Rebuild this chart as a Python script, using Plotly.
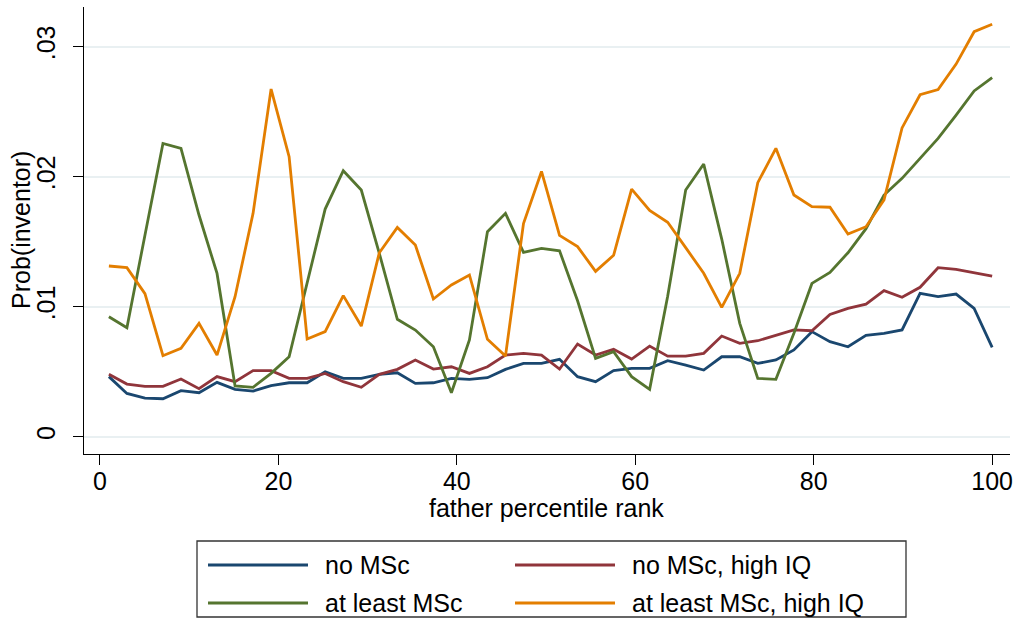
import plotly.graph_objects as go

# ---- data ----
x_rank = [1.00, 3.02, 5.04, 7.06, 9.08, 11.10, 13.12, 15.14, 17.16, 19.18,
          21.20, 23.22, 25.24, 27.27, 29.29, 31.31, 33.33, 35.35, 37.37, 39.39,
          41.41, 43.43, 45.45, 47.47, 49.49, 51.51, 53.53, 55.55, 57.57, 59.59,
          61.61, 63.63, 65.65, 67.67, 69.69, 71.71, 73.73, 75.76, 77.78, 79.80,
          81.82, 83.84, 85.86, 87.88, 89.90, 91.92, 93.94, 95.96, 97.98, 100.00]

no_msc = [0.00462, 0.00333, 0.00297, 0.00292, 0.00354, 0.00338, 0.00418, 0.00364, 0.00351, 0.00392,
          0.00415, 0.00415, 0.00500, 0.00449, 0.00449, 0.00480, 0.00492, 0.00410, 0.00415, 0.00449,
          0.00441, 0.00454, 0.00518, 0.00564, 0.00564, 0.00595, 0.00462, 0.00423, 0.00508, 0.00526,
          0.00526, 0.00585, 0.00551, 0.00513, 0.00615, 0.00615, 0.00564, 0.00590, 0.00667, 0.00808,
          0.00731, 0.00692, 0.00779, 0.00795, 0.00821, 0.01103, 0.01077, 0.01097, 0.00987, 0.00687]

no_msc_hiq = [0.00480, 0.00405, 0.00387, 0.00387, 0.00444, 0.00369, 0.00462, 0.00423, 0.00508, 0.00508,
              0.00449, 0.00449, 0.00487, 0.00423, 0.00380, 0.00480, 0.00518, 0.00590, 0.00520, 0.00538,
              0.00487, 0.00538, 0.00628, 0.00641, 0.00628, 0.00520, 0.00713, 0.00628, 0.00672, 0.00597,
              0.00697, 0.00620, 0.00620, 0.00641, 0.00774, 0.00718, 0.00738, 0.00782, 0.00821, 0.00815,
              0.00940, 0.00987, 0.01020, 0.01123, 0.01072, 0.01149, 0.01300, 0.01287, 0.01264, 0.01236]

msc = [0.00923, 0.00838, 0.01550, 0.02256, 0.02218, 0.01705, 0.01256, 0.00390, 0.00380, 0.00487,
       0.00615, 0.01180, 0.01751, 0.02046, 0.01897, 0.01410, 0.00903, 0.00820, 0.00692, 0.00338,
       0.00744, 0.01577, 0.01718, 0.01418, 0.01449, 0.01430, 0.01046, 0.00603, 0.00654, 0.00462,
       0.00364, 0.01080, 0.01897, 0.02097, 0.01520, 0.00872, 0.00449, 0.00441, 0.00795, 0.01179,
       0.01264, 0.01415, 0.01600, 0.01859, 0.01987, 0.02141, 0.02295, 0.02474, 0.02659, 0.02762]

msc_hiq = [0.01313, 0.01300, 0.01100, 0.00623, 0.00680, 0.00872, 0.00628, 0.01077, 0.01718, 0.02674,
           0.02154, 0.00751, 0.00808, 0.01085, 0.00851, 0.01415, 0.01610, 0.01474, 0.01059, 0.01167,
           0.01244, 0.00749, 0.00620, 0.01640, 0.02040, 0.01548, 0.01462, 0.01272, 0.01395, 0.01904,
           0.01741, 0.01649, 0.01454, 0.01257, 0.00995, 0.01257, 0.01954, 0.02218, 0.01859, 0.01770,
           0.01765, 0.01558, 0.01615, 0.01821, 0.02375, 0.02630, 0.02670, 0.02866, 0.03115, 0.03172]

series_names = ["no MSc", "no MSc, high IQ", "at least MSc", "at least MSc, high IQ"]
series_values = [no_msc, no_msc_hiq, msc, msc_hiq]
series_colors = ["#1a476f", "#90353b", "#55752f", "#e37e00"]

x_ticks = [0, 20, 40, 60, 80, 100]
y_ticks = [0, 0.01, 0.02, 0.03]
y_ticktext = ["0", ".01", ".02", ".03"]
x_title = "father percentile rank"
y_title = "Prob(inventor)"

# ---- layout constants (pixels) ----
W, H = 1021, 628
L, R, T, B = 84, 11, 7, 174
FONT = "Arial, 'Liberation Sans', Helvetica, sans-serif"
FS = 25

fig = go.Figure()
for name, vals, col in zip(series_names, series_values, series_colors):
    fig.add_trace(go.Scatter(x=x_rank, y=vals, mode="lines", name=name,
                             line=dict(color=col, width=2.8)))

pw, ph = W - L - R, H - T - B
def px(xp):
    return (xp - L) / pw
def py(yp):
    return (H - B - yp) / ph

# custom legend (box + long line samples + labels)
shapes = [dict(type="rect", xref="paper", yref="paper",
               x0=px(197), x1=px(906), y0=py(541), y1=py(617),
               line=dict(color="#333333", width=1.3), fillcolor="white", layer="above")]
annotations = []
leg_pos = [(208, 565), (515, 565), (208, 603), (515, 603)]
for (lx, ly), name, col in zip(leg_pos, series_names, series_colors):
    shapes.append(dict(type="line", xref="paper", yref="paper",
                       x0=px(lx), x1=px(lx + 100), y0=py(ly), y1=py(ly),
                       line=dict(color=col, width=2.8)))
    annotations.append(dict(xref="paper", yref="paper", x=px(lx + 115), y=py(ly),
                            xanchor="left", yanchor="middle", text=name, showarrow=False,
                            font=dict(family=FONT, size=FS, color="black")))

# axis titles placed as annotations
annotations.append(dict(xref="paper", yref="paper", x=px(546), y=py(508),
                        xanchor="center", yanchor="middle", text=x_title, showarrow=False,
                        font=dict(family=FONT, size=FS, color="black")))
annotations.append(dict(xref="paper", yref="paper", x=px(21), y=py(230),
                        xanchor="center", yanchor="middle", text=y_title, showarrow=False,
                        textangle=-90, font=dict(family=FONT, size=FS, color="black")))

fig.update_layout(
    width=W, height=H,
    margin=dict(l=L, r=R, t=T, b=B, pad=0),
    paper_bgcolor="white", plot_bgcolor="white",
    font=dict(family=FONT, size=FS, color="black"),
    showlegend=False,
    shapes=shapes, annotations=annotations,
    xaxis=dict(range=[-1.79, 102.0], tickvals=x_ticks, ticks="outside", ticklen=10,
               tickwidth=1.3, tickcolor="black", showline=True, linecolor="black",
               linewidth=1.3, showgrid=False, zeroline=False,
               tickfont=dict(size=FS), ticklabelstandoff=-5),
    yaxis=dict(range=[-0.00133, 0.03305], tickvals=y_ticks, ticktext=y_ticktext,
               tickangle=-90, ticks="outside", ticklen=10, tickwidth=1.3,
               tickcolor="black", showline=True, linecolor="black", linewidth=1.3,
               showgrid=True, gridcolor="#e9f0f2", gridwidth=1.8, zeroline=False,
               tickfont=dict(size=FS), ticklabelstandoff=8),
)

fig.write_html("out.html")
